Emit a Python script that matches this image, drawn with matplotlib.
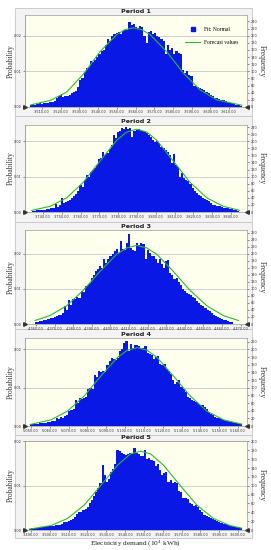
import numpy as np
import matplotlib.pyplot as plt
from matplotlib.lines import Line2D
from matplotlib.patches import Rectangle
from matplotlib.ticker import FuncFormatter

# ---- data (frequency per bin, 10,000 trials) ----
titles = ["Period 1", "Period 2", "Period 3", "Period 4", "Period 5"]

p1_range = (3503.6, 3616.8)
p1_counts = [6, 8, 7, 9, 10, 9, 11, 12, 10, 13,
             14, 16, 25, 32, 33, 28, 30, 31, 35, 38,
             42, 46, 55, 75, 80, 98, 108, 112, 128, 125,
             133, 140, 150, 158, 160, 175, 190, 185, 200, 205,
             208, 210, 205, 212, 217, 215, 238, 230, 232, 225,
             222, 228, 225, 200, 180, 210, 214, 205, 208, 199,
             195, 190, 185, 150, 175, 160, 165, 148, 158, 152,
             150, 105, 96, 100, 91, 88, 60, 58, 56, 54,
             50, 48, 42, 38, 35, 30, 26, 25, 22, 21,
             19, 16, 14, 12, 10, 8, 7, 5, 4]
p1_fit_x = [3504.0, 3514.3, 3523.2, 3532.1, 3541.0, 3549.9, 3554.4, 3558.8,
            3563.3, 3567.8, 3576.7, 3585.6, 3594.5, 3603.4, 3616.8]
p1_fit_y = [6, 18, 42, 92, 155, 203, 217, 222, 217, 203, 155, 95, 48, 20, 5]
p1_xticks = [3510, 3520, 3530, 3540, 3550, 3560, 3570, 3580, 3590, 3600, 3610]
p1_xlim = (3500.9, 3619.6)

p2_range = (3734.0, 3844.4)
p2_counts = [3, 4, 5, 5, 6, 6, 7, 8, 9, 10,
             11, 23, 14, 20, 41, 26, 28, 30, 35, 40,
             44, 50, 58, 77, 72, 90, 105, 100, 112, 119,
             125, 133, 150, 152, 170, 160, 166, 178, 190, 217,
             210, 227, 230, 238, 235, 240, 236, 238, 213, 228,
             232, 235, 231, 230, 225, 222, 218, 213, 205, 199,
             200, 195, 185, 180, 175, 170, 161, 138, 165, 133,
             128, 100, 110, 95, 91, 88, 80, 67, 60, 55,
             49, 45, 40, 38, 35, 30, 26, 21, 20, 18,
             16, 14, 12, 11, 10, 9, 8, 7, 5, 4]
p2_fit_x = [3734.0, 3743.7, 3752.6, 3761.4, 3770.3, 3779.2, 3784.5, 3789.8,
            3795.2, 3800.5, 3809.3, 3818.2, 3827.1, 3835.9, 3844.4]
p2_fit_y = [4.5, 16, 40, 84, 144, 203, 226, 234, 226, 203, 144, 84, 40, 16, 5]
p2_xticks = [3740, 3750, 3760, 3770, 3780, 3790, 3800, 3810, 3820, 3830, 3840]
p2_xlim = (3730.4, 3848.5)

p3_range = (4359.5, 4466.1)
p3_counts = [5, 6, 8, 9, 10, 12, 14, 17, 16, 19,
             22, 27, 25, 30, 50, 40, 68, 55, 70, 72,
             77, 75, 93, 90, 108, 112, 118, 131, 140, 150,
             158, 165, 160, 185, 175, 184, 193, 200, 208, 215,
             203, 236, 215, 212, 230, 258, 217, 210, 208, 231,
             226, 231, 228, 184, 212, 203, 195, 193, 185, 174,
             184, 170, 160, 179, 182, 146, 140, 127, 131, 120,
             112, 100, 93, 89, 86, 84, 78, 74, 65, 60,
             55, 50, 45, 41, 36, 32, 27, 24, 20, 17,
             15, 12, 11, 9, 7, 6]
p3_fit_x = [4359.5, 4367.5, 4376.5, 4385.4, 4394.4, 4403.4, 4408.8, 4414.1,
            4419.5, 4424.9, 4433.8, 4442.8, 4451.8, 4460.7, 4468.8]
p3_fit_y = [10, 24, 52, 96, 150, 199, 217, 224, 217, 199, 150, 96, 52, 24, 10]
p3_xticks = [4360, 4370, 4380, 4390, 4400, 4410, 4420, 4430, 4440, 4450, 4460, 4470]
p3_xlim = (4354.1, 4473.4)

p4_range = (5049.6, 5162.0)
p4_counts = [4, 5, 5, 6, 7, 7, 8, 9, 10, 11,
             12, 14, 20, 18, 24, 22, 26, 28, 40, 43,
             45, 67, 60, 72, 70, 72, 75, 97, 100, 97,
             132, 128, 145, 140, 145, 140, 160, 171, 179, 175,
             172, 179, 197, 200, 216, 221, 197, 214, 205, 212,
             212, 208, 201, 205, 209, 192, 188, 185, 175, 180,
             184, 162, 160, 162, 149, 145, 136, 120, 110, 115,
             119, 102, 98, 90, 76, 72, 67, 65, 63, 60,
             54, 54, 50, 45, 37, 32, 28, 24, 22, 20,
             18, 16, 14, 12, 11, 10, 9, 7, 6, 5]
p4_fit_x = [5049.6, 5060.6, 5069.4, 5078.2, 5087.0, 5095.9, 5101.2, 5106.5,
            5111.7, 5117.0, 5125.8, 5134.7, 5143.5, 5152.3, 5162.0]
p4_fit_y = [4, 16, 39, 78, 130, 179, 198, 205, 198, 179, 130, 78, 39, 16, 5]
p4_xticks = [5050, 5060, 5070, 5080, 5090, 5100, 5110, 5120, 5130, 5140, 5150, 5160]
p4_xlim = (5046.8, 5164.8)

p5_range = (3489.1, 3602.0)
p5_counts = [3, 4, 4, 5, 5, 6, 6, 7, 8, 9,
             9, 10, 11, 12, 12, 14, 19, 17, 20, 23,
             25, 30, 37, 40, 41, 45, 48, 52, 62, 68,
             77, 85, 95, 106, 147, 124, 109, 115, 131, 138,
             150, 180, 178, 175, 171, 170, 171, 174, 172, 185,
             175, 171, 168, 167, 181, 160, 163, 158, 156, 145,
             148, 135, 124, 128, 131, 109, 112, 106, 108, 106,
             88, 85, 73, 72, 70, 62, 59, 55, 56, 52,
             45, 40, 34, 32, 30, 28, 24, 23, 20, 18,
             16, 14, 13, 12, 10, 9, 8, 7, 6, 5]
p5_fit_x = [3489.1, 3500.6, 3509.4, 3518.2, 3527.0, 3535.9, 3542.9, 3548.2,
            3553.5, 3560.5, 3569.4, 3578.2, 3587.0, 3595.8, 3602.0]
p5_fit_y = [2, 10, 26, 56, 100, 146, 172, 178, 172, 146, 100, 56, 26, 10, 4]
p5_xticks = [3490, 3500, 3510, 3520, 3530, 3540, 3550, 3560, 3570, 3580, 3590, 3600]
p5_xlim = (3486.8, 3604.8)

freq_top = [258, 246, 268, 230, 201]
freq_tick_max = [240, 240, 260, 220, 200]
prob_ticks = [0.00, 0.01, 0.02]
trials = 10000

panels = [
    (p1_range, p1_counts, p1_fit_x, p1_fit_y, p1_xticks, p1_xlim),
    (p2_range, p2_counts, p2_fit_x, p2_fit_y, p2_xticks, p2_xlim),
    (p3_range, p3_counts, p3_fit_x, p3_fit_y, p3_xticks, p3_xlim),
    (p4_range, p4_counts, p4_fit_x, p4_fit_y, p4_xticks, p4_xlim),
    (p5_range, p5_counts, p5_fit_x, p5_fit_y, p5_xticks, p5_xlim),
]

# ---- layout in pixels (top-origin) ----
W, H = 271, 550
plot_rows = [(15, 107), (125, 212), (230, 324), (338, 426), (441, 530)]
frame_rows = [(8, 116), (116, 222), (222, 329), (329, 435), (435, 538)]
left_px, right_px = 25, 247

bar_color = "#0A18E6"
fit_color = "#2DB82D"
serif = ["Liberation Serif", "DejaVu Serif"]
plt.rcParams["mathtext.fontset"] = "stix"

fig = plt.figure(figsize=(W / 100, H / 100), dpi=100)
fig.patch.set_facecolor("white")

for k, (rng, counts, fx, fy, xt, xl) in enumerate(panels):
    pt, pb = plot_rows[k]
    ft, fb = frame_rows[k]

    # chart window frame (behind the axes)
    fig.patches.append(Rectangle((15 / W, 1 - fb / H), (252 - 15) / W, (fb - ft) / H,
                                 transform=fig.transFigure, facecolor="#F3F3F3",
                                 edgecolor="#C4C4C4", lw=0.6, zorder=-5))

    ax = fig.add_axes([left_px / W, 1 - pb / H, (right_px - left_px) / W, (pb - pt) / H])
    ax.set_zorder(2)
    ax.set_facecolor("#FFFFEE")

    edges = np.linspace(rng[0], rng[1], len(counts) + 1)
    ax.bar(edges[:-1], counts, width=np.diff(edges), align="edge",
           color=bar_color, lw=0, zorder=2)
    ax.plot(fx, fy, color=fit_color, lw=0.8, zorder=3)

    for p in prob_ticks[1:]:
        ax.axhline(p * trials, color="#C8C8C8", lw=0.6, zorder=1)

    ax.set_xlim(xl)
    ax.set_ylim(0, freq_top[k])
    ax.set_xticks(xt)
    ax.xaxis.set_major_formatter(FuncFormatter(lambda v, pos: f"{v:,.2f}"))

    ax.yaxis.tick_right()
    ax.set_yticks(range(0, freq_tick_max[k] + 1, 20))

    sec = ax.secondary_yaxis("left", functions=(lambda f: f / trials, lambda p: p * trials))
    sec.set_yticks(prob_ticks)
    sec.yaxis.set_major_formatter(FuncFormatter(lambda v, pos: f"{v:.2f}"))

    for a in (ax, sec):
        a.tick_params(labelsize=2.5, length=1.5, width=0.4, pad=1, colors="#333333")
        for s in a.spines.values():
            s.set_color("#9A9A9A")
            s.set_linewidth(0.5)

    ax.set_title(titles[k], fontsize=4.6, fontweight="bold", pad=1.5, color="#222222")

    # certainty grabbers at the ends of the axis
    ax.plot([xl[0]], [0], marker=">", ms=2.6, color="#333333", clip_on=False, zorder=5)
    ax.plot([xl[1]], [0], marker="<", ms=2.6, color="#333333", clip_on=False, zorder=5)

    mid = 1 - (pt + pb) / 2 / H
    fig.text(11 / W, mid, "Probability", rotation=90, ha="center", va="center",
             fontsize=5.5, family=serif, color="#333333")
    fig.text(262 / W, mid, "Frequency", rotation=270, ha="center", va="center",
             fontsize=5.5, family=serif, color="#333333")

    if k == 0:
        handles = [Line2D([], [], ls="none", marker="s", ms=3.2, color=bar_color),
                   Line2D([], [], color=fit_color, lw=0.8)]
        ax.legend(handles, ["Fit: Normal", "Forecast values"], loc="upper right",
                  bbox_to_anchor=(0.985, 0.92), frameon=False, handlelength=2.6,
                  labelspacing=1.4, prop={"family": serif, "size": 4})

fig.text(135 / W, 1 - 543.5 / H, r"Electricity demand (10$^4$ kWh)", ha="center",
         va="center", fontsize=5.3, family=serif, color="#222222")

fig.savefig("out.png", dpi=100)
